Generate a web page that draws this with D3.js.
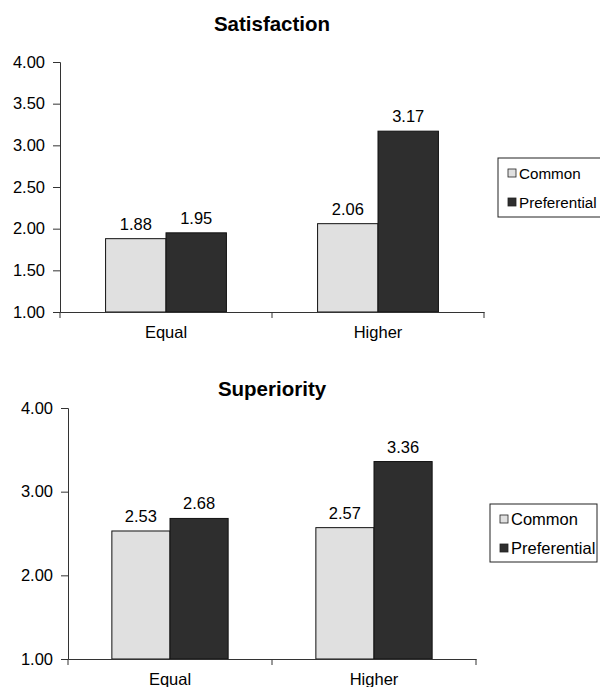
<!DOCTYPE html>
<html>
<head>
<meta charset="utf-8">
<script src="https://cdn.jsdelivr.net/npm/d3@7"></script>
<style>
  html, body { margin: 0; padding: 0; background: #fff; }
  svg { display: block; font-family: "Liberation Sans", Arial, sans-serif; }
</style>
</head>
<body>
<svg id="chart" width="600" height="687"></svg>
<script>
// Group means by evaluation condition
const categories = ["Equal", "Higher"];
const seriesNames = ["Common", "Preferential"];
const satisfactionCommon = [1.88, 2.06];
const satisfactionPreferential = [1.95, 3.17];
const superiorityCommon = [2.53, 2.57];
const superiorityPreferential = [2.68, 3.36];
const satisfactionTicks = [1.0, 1.5, 2.0, 2.5, 3.0, 3.5, 4.0];
const superiorityTicks = [1.0, 2.0, 3.0, 4.0];
const titles = ["Satisfaction", "Superiority"];

const colors = { Common: "#e0e0e0", Preferential: "#2e2e2e" };
const FS = 16.5;
const svg = d3.select("#chart");

function drawPanel(opts) {
  const { title, common, preferential, ticks, x0, x1, yTop, yBottom, titleY, legend } = opts;
  const g = svg.append("g");

  const x = d3.scaleBand().domain(categories).range([x0, x1])
    .paddingInner(0.43).paddingOuter(0.215);
  const xs = d3.scaleBand().domain(seriesNames).range([0, x.bandwidth()]);
  const y = d3.scaleLinear().domain([1, 4]).range([yBottom, yTop]);

  const rows = categories.map((c, i) => ({
    cat: c,
    values: [
      { name: "Common", v: common[i] },
      { name: "Preferential", v: preferential[i] }
    ]
  }));

  // title
  g.append("text")
    .attr("x", 272).attr("y", titleY)
    .attr("text-anchor", "middle")
    .attr("font-size", 20.5).attr("font-weight", "bold")
    .attr("fill", "#000")
    .text(title);

  // bars
  const grp = g.selectAll(".cat").data(rows).enter().append("g")
    .attr("transform", d => `translate(${x(d.cat)},0)`);
  grp.selectAll("rect").data(d => d.values).enter().append("rect")
    .attr("x", d => xs(d.name))
    .attr("width", xs.bandwidth())
    .attr("y", d => y(d.v))
    .attr("height", d => y(1) - y(d.v))
    .attr("fill", d => colors[d.name])
    .attr("stroke", "#111").attr("stroke-width", 1);
  grp.selectAll("text").data(d => d.values).enter().append("text")
    .attr("x", d => xs(d.name) + xs.bandwidth() / 2)
    .attr("y", d => y(d.v) - 9)
    .attr("text-anchor", "middle")
    .attr("font-size", FS).attr("fill", "#000")
    .text(d => d.v.toFixed(2));

  // y axis
  const yAxis = d3.axisLeft(y).tickValues(ticks).tickFormat(d3.format(".2f"))
    .tickSize(7).tickPadding(8);
  const ya = g.append("g").attr("transform", `translate(${x0},0)`).call(yAxis);
  ya.select(".domain").attr("stroke", "#333");
  ya.selectAll(".tick line").attr("stroke", "#333");
  ya.selectAll(".tick text").attr("font-size", FS).attr("fill", "#000")
    .attr("font-family", "Liberation Sans, Arial, sans-serif");

  // x axis with boundary ticks between categories
  const xAxis = d3.axisBottom(x).tickSize(0).tickPadding(14).tickSizeOuter(0);
  const xa = g.append("g").attr("transform", `translate(0,${yBottom})`).call(xAxis);
  xa.select(".domain").attr("stroke", "#333");
  xa.selectAll(".tick text").attr("font-size", FS).attr("fill", "#000")
    .attr("font-family", "Liberation Sans, Arial, sans-serif");
  const bounds = d3.range(categories.length + 1).map(i => x0 + i * x.step());
  xa.selectAll(".bound").data(bounds).enter().append("line")
    .attr("class", "bound")
    .attr("x1", d => d).attr("x2", d => d)
    .attr("y1", 0).attr("y2", 6)
    .attr("stroke", "#333");

  // legend
  const lg = g.append("g").attr("transform", `translate(${legend.x},${legend.y})`);
  lg.append("rect").attr("width", legend.w).attr("height", legend.h)
    .attr("fill", "#fff").attr("stroke", "#222").attr("stroke-width", 1);
  seriesNames.forEach((s, i) => {
    const cy = 15 + i * 29;
    lg.append("rect").attr("x", 10).attr("y", cy - 4).attr("width", 8).attr("height", 8)
      .attr("fill", colors[s]).attr("stroke", "#222").attr("stroke-width", 0.8);
    lg.append("text").attr("x", 21).attr("y", cy + 6)
      .attr("font-size", legend.fs).attr("fill", "#000").text(s);
  });
}

drawPanel({
  title: titles[0], common: satisfactionCommon, preferential: satisfactionPreferential,
  ticks: satisfactionTicks, x0: 60, x1: 484, yTop: 62, yBottom: 312, titleY: 31,
  legend: { x: 498, y: 158, w: 112, h: 59, fs: 15.2 }
});
drawPanel({
  title: titles[1], common: superiorityCommon, preferential: superiorityPreferential,
  ticks: superiorityTicks, x0: 68, x1: 476, yTop: 408, yBottom: 659, titleY: 396,
  legend: { x: 490, y: 504, w: 107, h: 58, fs: FS }
});
</script>
</body>
</html>
